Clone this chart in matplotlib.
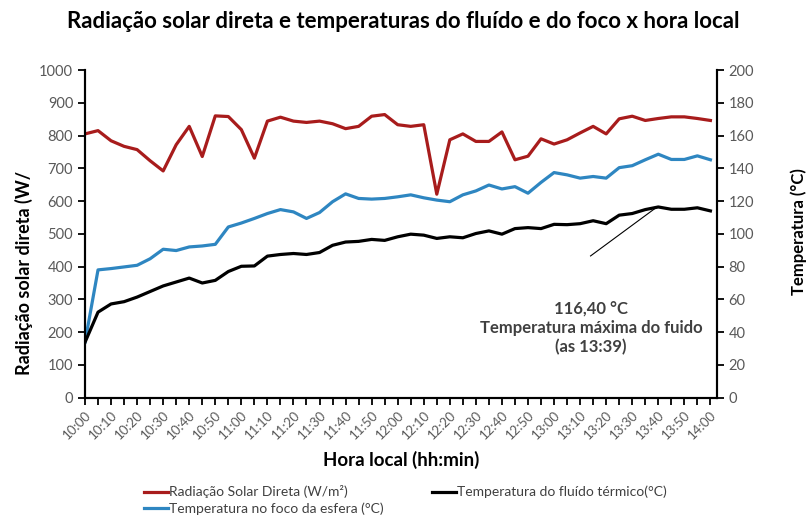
import matplotlib.pyplot as plt

plt.rcParams["font.family"] = ["Lato", "DejaVu Sans"]

# leituras a cada 5 min, das 10:00 as 14:00
rotulos_hora = ["10:00", "10:10", "10:20", "10:30", "10:40", "10:50",
                "11:00", "11:10", "11:20", "11:30", "11:40", "11:50",
                "12:00", "12:10", "12:20", "12:30", "12:40", "12:50",
                "13:00", "13:10", "13:20", "13:30", "13:40", "13:50", "14:00"]

radiacao = [805, 815, 784, 767, 757, 723, 692, 772, 828, 736, 860, 858, 818,
            731, 844, 856, 844, 840, 844, 836, 821, 828, 859, 864, 833, 828,
            833, 621, 787, 805, 782, 782, 811, 726, 737, 790, 774, 787, 808,
            828, 805, 851, 859, 846, 852, 857, 857, 852, 846]

temp_foco = [33.8, 78.0, 78.8, 79.8, 80.8, 84.8, 90.6, 89.8, 92.0, 92.6, 93.6,
             104.2, 106.6, 109.4, 112.4, 114.8, 113.4, 109.4, 113.0, 119.6,
             124.4, 121.6, 121.2, 121.6, 122.6, 123.8, 122.0, 120.6, 119.6,
             123.8, 126.2, 129.8, 127.4, 128.8, 124.8, 131.4, 137.4, 136.0,
             134.0, 135.0, 134.0, 140.4, 141.6, 145.2, 148.6, 145.4, 145.4,
             147.6, 145.2]

temp_fluido = [33.8, 52.2, 57.2, 58.6, 61.4, 64.8, 68.2, 70.6, 73.0, 70.0, 71.6,
               77.0, 80.2, 80.4, 86.4, 87.4, 88.0, 87.4, 88.6, 93.0, 95.0, 95.4,
               96.6, 96.0, 98.2, 99.8, 99.2, 97.2, 98.2, 97.6, 100.2, 101.8,
               99.8, 103.2, 103.8, 103.2, 105.8, 105.6, 106.2, 108.0, 106.2,
               111.4, 112.4, 114.8, 116.4, 115.0, 115.0, 115.9, 114.0]

x = list(range(len(radiacao)))
cinza = "#595959"

fig = plt.figure(figsize=(8.11, 5.17), dpi=100)
ax = fig.add_axes([0.1048, 0.2308, 0.7792, 0.6338])
ax2 = ax.twinx()

l1, = ax.plot(x, radiacao, color="#A81C1C", lw=2.3, label="Radiação Solar Direta (W/m²)")
l2, = ax2.plot(x, temp_foco, color="#2E86C1", lw=2.3, label="Temperatura no foco da esfera (°C)")
l3, = ax2.plot(x, temp_fluido, color="black", lw=2.3, label="Temperatura do fluído térmico(°C)")

ax.set_xlim(0, 48.5)
ax.set_ylim(0, 1000)
ax2.set_ylim(0, 200)
ax.set_yticks(range(0, 1001, 100))
ax2.set_yticks(range(0, 201, 20))
ax.set_xticks(x)
ax.set_xticklabels([rotulos_hora[i // 2] if i % 2 == 0 else "" for i in x],
                   rotation=45, ha="right", rotation_mode="anchor")

for a in (ax, ax2):
    a.spines["top"].set_visible(False)
    for s in ("left", "right", "bottom"):
        a.spines[s].set_linewidth(1.5)
    a.tick_params(width=1.3, length=5, colors="black", labelcolor=cinza, labelsize=10.5)
ax.tick_params(axis="x", labelsize=9.5, pad=3)

ax.set_xlabel("Hora local (hh:min)", fontsize=13.5, fontweight="bold", labelpad=7)
fig.text(0.03, 1 - 273 / 517, "Radiação solar direta (W/", rotation=90,
         ha="center", va="center", fontsize=13, fontweight="bold")
fig.text(0.985, 1 - 232 / 517, "Temperatura (°C)", rotation=90,
         ha="center", va="center", fontsize=12, fontweight="bold")
fig.text(0.497, 1 - 21 / 517, "Radiação solar direta e temperaturas do fluído e do foco x hora local",
         ha="center", va="center", fontsize=16, fontweight="bold")

# pico da temperatura do fluido
ax2.plot([38.8, 43.8], [86.5, 115.8], color="black", lw=0.8)
fig.text(591 / 811, 1 - 328 / 517, "116,40 °C\nTemperatura máxima do fuido\n(as 13:39)",
         ha="center", va="center", fontsize=12, fontweight="bold",
         color="#404040", linespacing=1.25)

leg = fig.legend(handles=[l1, l2, l3], ncol=2, loc="center",
                 bbox_to_anchor=(0.5, 1 - 500 / 517), frameon=False,
                 fontsize=10, handlelength=1.7, handletextpad=0.1,
                 columnspacing=3.5, labelspacing=0.25)
for t in leg.get_texts():
    t.set_color("#404040")

plt.savefig("out.png", dpi=100)
plt.close()
